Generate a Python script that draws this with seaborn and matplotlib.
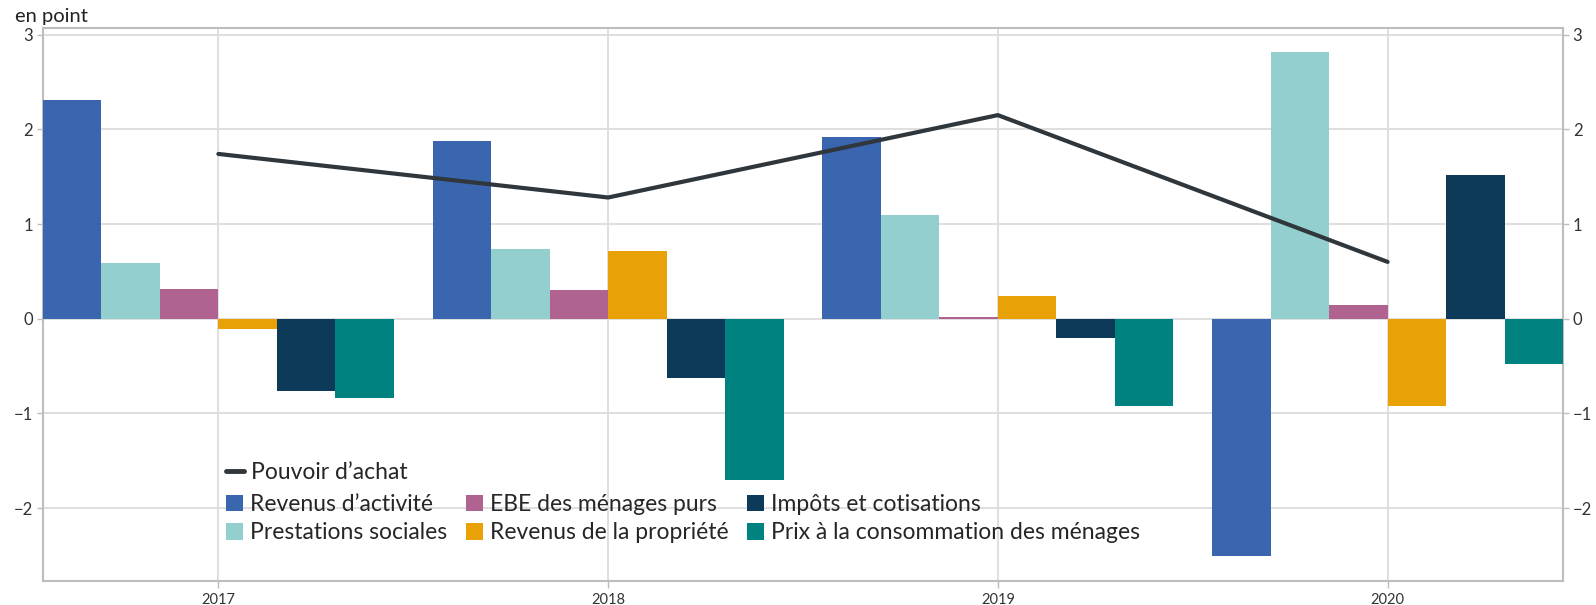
import numpy as np
import pandas as pd
import matplotlib
matplotlib.use("Agg")
import matplotlib.pyplot as plt
import seaborn as sns
from matplotlib.lines import Line2D
from matplotlib.patches import Patch

# ---- data ----
years = ["2017", "2018", "2019", "2020"]
series = ["Revenus d’activité", "Prestations sociales", "EBE des ménages purs",
          "Revenus de la propriété", "Impôts et cotisations",
          "Prix à la consommation des ménages"]
revenus_activite = [2.31, 1.88, 1.92, -2.51]
prestations_sociales = [0.59, 0.74, 1.10, 2.82]
ebe_menages = [0.31, 0.30, 0.02, 0.14]
revenus_propriete = [-0.11, 0.71, 0.24, -0.92]
impots_cotisations = [-0.76, -0.63, -0.20, 1.52]
prix_consommation = [-0.84, -1.70, -0.92, -0.48]
pouvoir_achat = [1.74, 1.28, 2.15, 0.60]
line_label = "Pouvoir d’achat"
y_ticks = [-2, -1, 0, 1, 2, 3]

colors = ["#3A66B0", "#93CFCF", "#B06290", "#E8A106", "#0D3A58", "#008280"]
line_color = "#2F363C"

values = [revenus_activite, prestations_sociales, ebe_menages,
          revenus_propriete, impots_cotisations, prix_consommation]
df = pd.DataFrame([
    {"year": y, "series": s, "value": v}
    for s, vals in zip(series, values) for y, v in zip(years, vals)
])
dfl = pd.DataFrame({"year": years, "value": pouvoir_achat})

# ---- figure ----
sns.set_style("white")
plt.rcParams["font.family"] = ["Lato", "DejaVu Sans"]

fig = plt.figure(figsize=(15.96, 6.05), dpi=100)
ax = fig.add_axes([43 / 1596, 1 - 581 / 605, (1563 - 43) / 1596, (581 - 28) / 605])

sns.barplot(data=df, x="year", y="value", hue="series", hue_order=series,
            order=years, palette=colors, width=0.9, saturation=1,
            errorbar=None, legend=False, ax=ax, zorder=3, linewidth=0,
            edgecolor="none")
sns.pointplot(data=dfl, x="year", y="value", order=years, color=line_color,
              markers="", linestyles="-", errorbar=None, ax=ax, zorder=4,
              lw=3)
for l in ax.lines:
    l.set_linewidth(3)
    l.set_zorder(4)

ax.set_xlim(-0.45, 3.45)
ax.set_ylim(-2.77, 3.07)
ax.set_yticks(y_ticks)
ax.set_xlabel("")
ax.set_ylabel("")

ax.grid(True, color="#DCDCDC", lw=1.3, zorder=0)
ax.set_axisbelow(True)
for sp in ax.spines.values():
    sp.set_visible(True)
    sp.set_color("#BDBDBD")
    sp.set_linewidth(1.5)

ax.tick_params(axis="y", which="both", left=True, right=True,
               labelleft=True, labelright=True, length=4, width=1,
               color="#BDBDBD", labelsize=12, labelcolor="#333333", pad=3)
ax.tick_params(axis="x", bottom=True, length=5, width=1, color="#BDBDBD",
               labelsize=10.5, labelcolor="#333333", pad=4)

# ---- legends ----
fs = 16.5
h_line = [Line2D([0], [0], color=line_color, lw=3.5)]
leg1 = ax.legend(h_line, [line_label], loc="upper left",
                 bbox_to_anchor=(226 / 1596, 1 - 462 / 605),
                 bbox_transform=fig.transFigure, frameon=False, fontsize=fs,
                 handlelength=0.8, handletextpad=0.3, borderpad=0,
                 borderaxespad=0)
ax.add_artist(leg1)
h_bars = [Patch(facecolor=c, edgecolor="none") for c in colors]
ax.legend(h_bars, series, loc="upper left", ncol=3,
          bbox_to_anchor=(226 / 1596, 1 - 494 / 605),
          bbox_transform=fig.transFigure, frameon=False, fontsize=fs,
          handlelength=0.75, handleheight=0.75, handletextpad=0.3,
          labelspacing=0.32, columnspacing=0.8, borderpad=0, borderaxespad=0)

fig.text(15 / 1596, 1 - 22 / 605, "en point", fontsize=14.5, color="#222222",
         va="baseline", ha="left")

fig.savefig("out.png", dpi=100)
